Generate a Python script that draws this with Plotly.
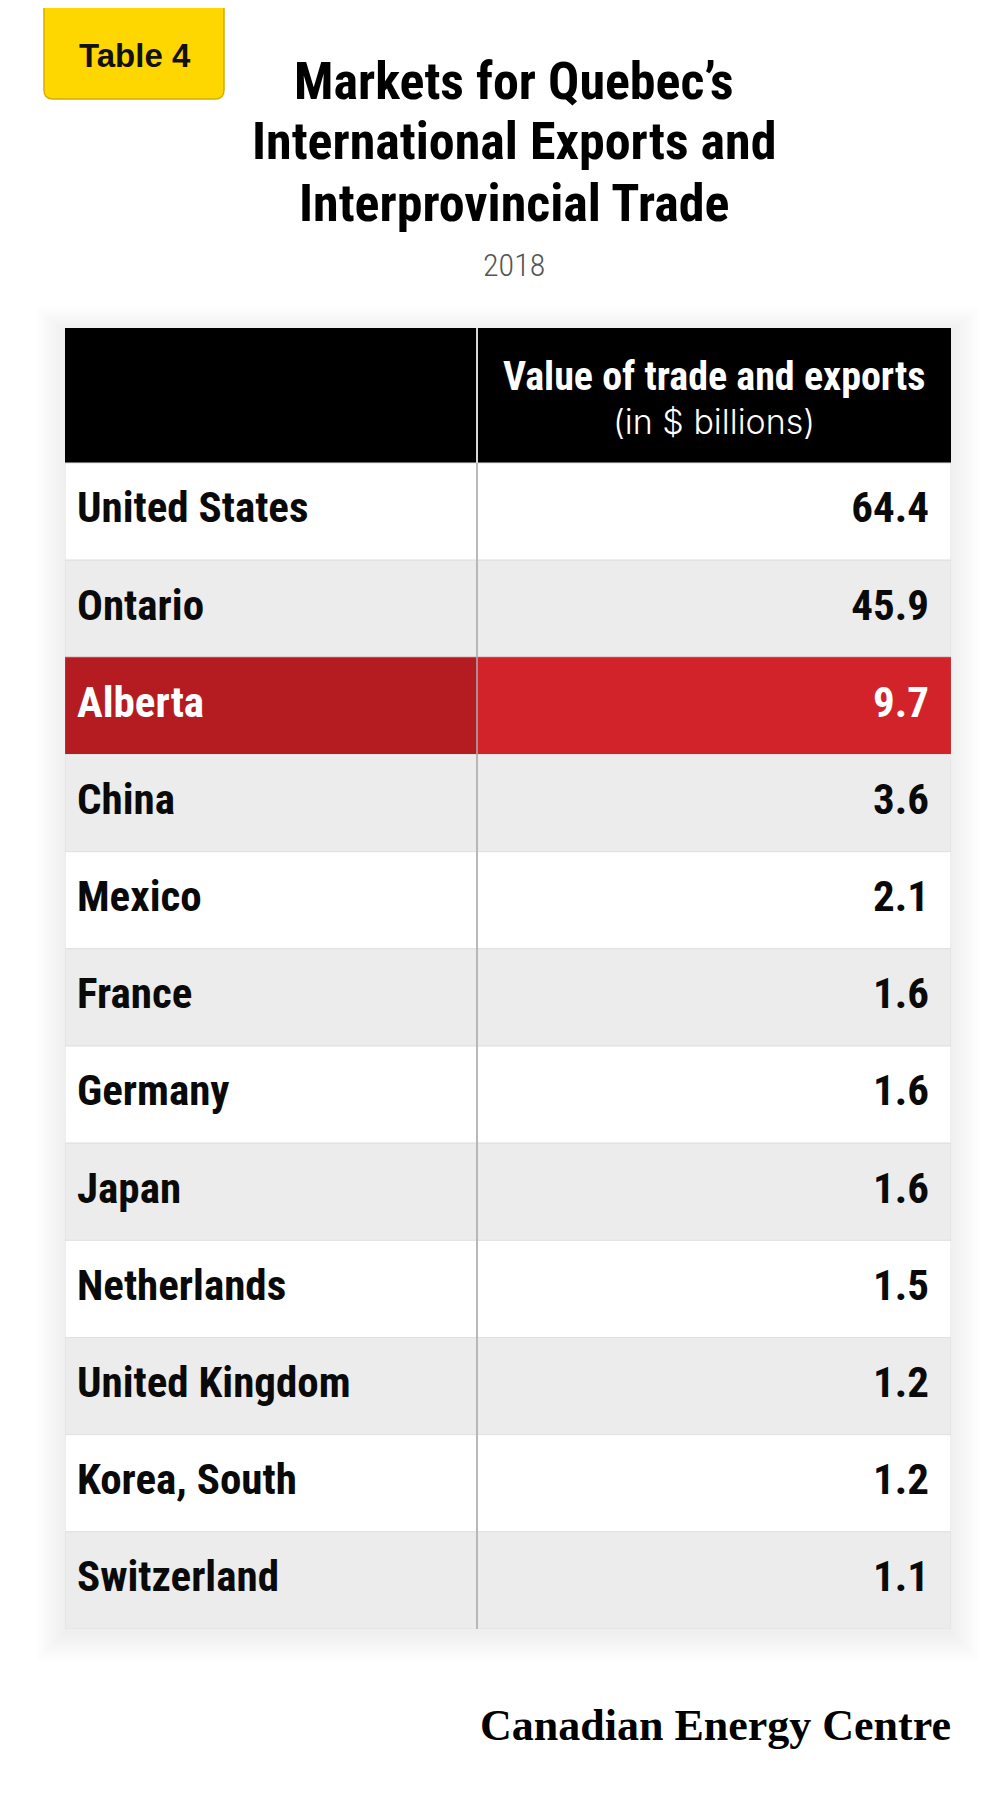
import plotly.graph_objects as go

# table contents
markets = ["United States", "Ontario", "Alberta", "China", "Mexico", "France",
           "Germany", "Japan", "Netherlands", "United Kingdom", "Korea, South",
           "Switzerland"]
values = [64.4, 45.9, 9.7, 3.6, 2.1, 1.6, 1.6, 1.6, 1.5, 1.2, 1.2, 1.1]
highlight = "Alberta"

header_main = "Value of trade and exports"
header_sub = "(in $ billions)"
title_lines = ["Markets for Quebec’s", "International Exports and", "Interprovincial Trade"]
subtitle = "2018"
badge = "Table 4"
source = "Canadian Energy Centre"

NARROW = "Roboto Condensed, Open Sans Condensed, DejaVu Sans Condensed, sans-serif"
W, H = 1000, 1800
# table box in pixels
TL, TR, TT, TB = 57, 943, 320, 1621
HEAD_PX = 135
ROW_PX = (TB - TT - HEAD_PX) / len(markets)
HDR = HEAD_PX / ROW_PX          # header height in row units
SPLIT = 412                     # left column width, px
TW = TR - TL


def main():
    n = len(markets)
    ys = [i + 0.5 for i in range(n)]
    left_fill, right_fill, line_col, txt_col = [], [], [], []
    for i, m in enumerate(markets):
        if m == highlight:
            left_fill.append("#b51c22")
            right_fill.append("#d2232a")
            line_col.append("#c0464b")
            txt_col.append("white")
        else:
            c = "#ececec" if i % 2 else "#ffffff"
            left_fill.append(c)
            right_fill.append(c)
            line_col.append("#e0e0e0")
            txt_col.append("#0a0a0a")

    data = []
    # header band
    data.append(go.Bar(y=[-HDR / 2], x=[TW], base=[0], width=[HDR], orientation="h",
                       marker=dict(color="#000000", line=dict(width=0))))
    data.append(go.Bar(y=ys, x=[SPLIT] * n, base=[0] * n, width=[1] * n, orientation="h",
                       marker=dict(color=left_fill, line=dict(color=line_col, width=1))))
    data.append(go.Bar(y=ys, x=[TW - SPLIT] * n, base=[SPLIT] * n, width=[1] * n,
                       orientation="h",
                       marker=dict(color=right_fill, line=dict(color=line_col, width=1))))
    # column divider
    data.append(go.Scatter(x=[SPLIT, SPLIT], y=[-HDR, 0], mode="lines",
                           line=dict(color="#d8d8d8", width=2)))
    data.append(go.Scatter(x=[SPLIT, SPLIT], y=[0, n], mode="lines",
                           line=dict(color="#a8a8a8", width=1.5)))
    # labels and values
    data.append(go.Scatter(x=[12] * n, y=ys, mode="text", text=markets,
                           textposition="middle right",
                           textfont=dict(family=NARROW, size=43, color=txt_col, weight="bold")))
    data.append(go.Scatter(x=[TW - 22] * n, y=ys, mode="text",
                           text=["%.1f" % v for v in values],
                           textposition="middle left",
                           textfont=dict(family=NARROW, size=43, color=txt_col, weight="bold")))

    shapes = []
    # soft shadow round the table
    px0, px1 = TL / W, TR / W
    py0, py1 = 1 - TB / H, 1 - TT / H
    for k in range(1, 17):
        shapes.append(dict(type="rect", xref="paper", yref="paper", layer="below",
                           x0=px0 - 1.8 * k / W, x1=px1 + 1.8 * k / W,
                           y0=py0 - (1.8 * k + 4) / H, y1=py1 + (1.6 * k - 4) / H,
                           line=dict(width=0), fillcolor="rgba(0,0,0,0.0045)"))
    # yellow badge with rounded bottom corners
    bx0, bx1, bt, bb = 36 / W, 216 / W, 1.01, 1 - 91 / H
    rx, ry = 9 / W, 9 / H
    path = ("M %f,%f L %f,%f Q %f,%f %f,%f L %f,%f Q %f,%f %f,%f L %f,%f Z" %
            (bx0, bt, bx0, bb + ry, bx0, bb, bx0 + rx, bb, bx1 - rx, bb,
             bx1, bb, bx1, bb + ry, bx1, bt))
    shapes.append(dict(type="path", xref="paper", yref="paper", path=path,
                       fillcolor="#ffd700", line=dict(color="#d4ae00", width=1.5)))

    annotations = []
    annotations.append(dict(text=badge, x=127 / W, y=1 - 48 / H, xref="paper", yref="paper",
                            showarrow=False, xanchor="center", yanchor="middle",
                            font=dict(family="Liberation Sans, Arial, sans-serif", size=33,
                                      color="#111111", weight="bold")))
    for line, yc in zip(title_lines, [73, 134, 195]):
        annotations.append(dict(text=line, x=0.506, y=1 - yc / H, xref="paper", yref="paper",
                                showarrow=False, xanchor="center", yanchor="middle",
                                font=dict(family=NARROW, size=52, color="#000000",
                                          weight="bold")))
    annotations.append(dict(text=subtitle, x=0.506, y=1 - 257 / H, xref="paper", yref="paper",
                            showarrow=False, xanchor="center", yanchor="middle",
                            font=dict(family=NARROW, size=32, color="#555555", weight=300)))
    hx = (SPLIT + TW) / 2
    annotations.append(dict(text=header_main, x=hx, y=(368 - TT - HEAD_PX) / ROW_PX,
                            xref="x", yref="y", showarrow=False, yanchor="middle",
                            font=dict(family=NARROW, size=40, color="white", weight="bold")))
    annotations.append(dict(text=header_sub, x=hx, y=(413 - TT - HEAD_PX) / ROW_PX,
                            xref="x", yref="y", showarrow=False, yanchor="middle",
                            font=dict(family="Inter, Open Sans, sans-serif", size=34,
                                      color="white", weight=300)))
    annotations.append(dict(text=source, x=945 / W, y=1 - 1717 / H, xref="paper", yref="paper",
                            showarrow=False, xanchor="right", yanchor="middle",
                            font=dict(family="Liberation Serif, DejaVu Serif, serif", size=44,
                                      color="#000000", weight="bold")))

    layout = go.Layout(
        width=W, height=H,
        margin=dict(l=0, r=0, t=0, b=0),
        paper_bgcolor="white", plot_bgcolor="rgba(0,0,0,0)",
        showlegend=False, barmode="overlay", hovermode=False,
        xaxis=dict(domain=[TL / W, TR / W], range=[0, TW], visible=False, fixedrange=True),
        yaxis=dict(domain=[1 - TB / H, 1 - TT / H], range=[n, -HDR], visible=False,
                   fixedrange=True),
        shapes=shapes, annotations=annotations,
    )
    fig = go.Figure(data=data, layout=layout)
    fig.write_html("out.html")


main()
